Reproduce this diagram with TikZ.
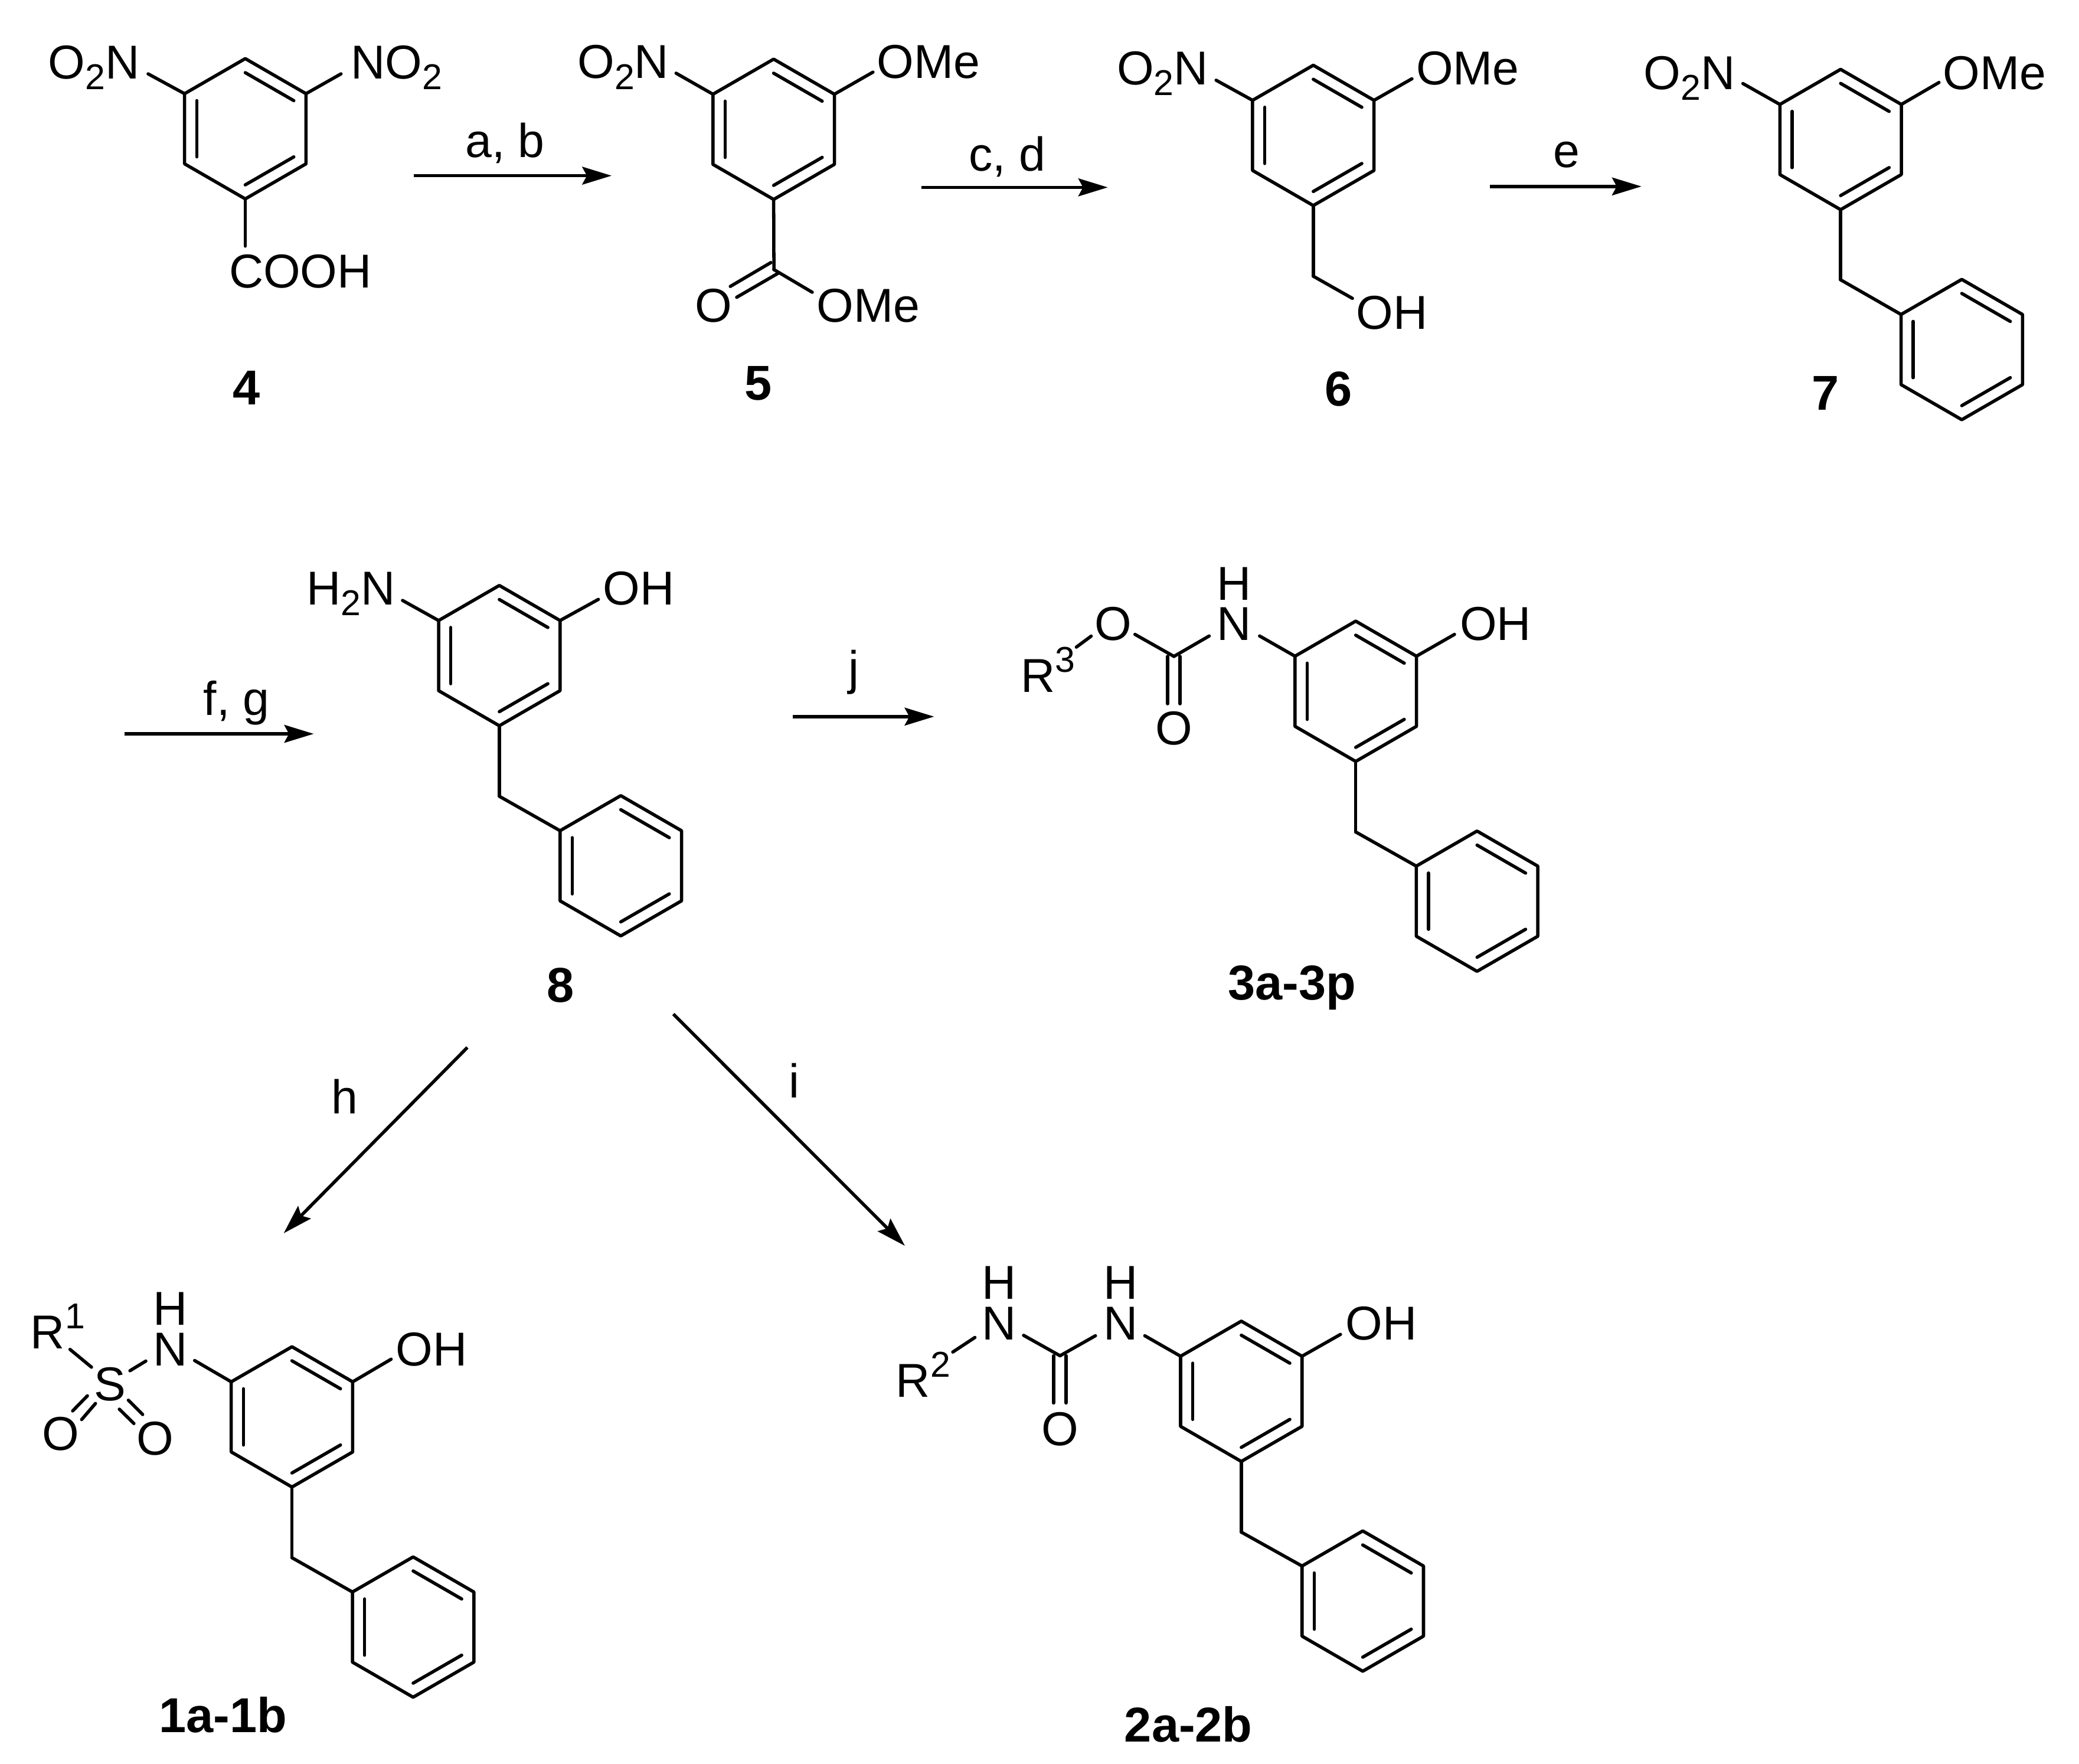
\documentclass[tikz,border=0pt]{standalone}
\usepackage{fontspec}
\setmainfont{Liberation Sans}
\usetikzlibrary{arrows.meta}
\newcommand\sbs[1]{\raisebox{-2.3pt}{\fontsize{7.7}{8}\selectfont #1}}
\newcommand\sps[1]{\raisebox{4.27pt}{\fontsize{7.7}{8}\selectfont #1}}
\tikzset{
  bond/.style={line width=0.7pt,line cap=round,line join=round,black},
  rxn/.style={line width=0.7pt,black,-{Stealth[length=6.3pt,width=3.8pt,inset=1pt]}},
  lbl/.style={font=\fontsize{10.2}{12}\selectfont,inner sep=0pt,outer sep=0pt,black},
  cpd/.style={font=\fontsize{10.5}{12}\selectfont\bfseries,inner sep=0pt,outer sep=0pt,anchor=base,black},
  lw/.style={lbl,anchor=base west},
  lc/.style={lbl,anchor=base}
}
\newcommand\benz[3]{%
  \coordinate (#1t) at (#2,#3-52.9);
  \coordinate (#1ur) at (#2+45.8,#3-26.45);
  \coordinate (#1lr) at (#2+45.8,#3+26.45);
  \coordinate (#1b) at (#2,#3+52.9);
  \coordinate (#1ll) at (#2-45.8,#3+26.45);
  \coordinate (#1ul) at (#2-45.8,#3-26.45);
  \draw[bond] (#1t)--(#1ur)--(#1lr)--(#1b)--(#1ll)--(#1ul)--cycle;
  \draw[bond] (#2,#3-42.3)--(#2+36.6,#3-21.2);
  \draw[bond] (#2+36.6,#3+21.2)--(#2,#3+42.3);
  \draw[bond] (#2-36.6,#3+21.2)--(#2-36.6,#3-21.2);
}
\newcommand\subst[3]{% from, name of free end, position
  \coordinate (#2) at (#3);
  \draw[bond] (#1)--(#2);
}
\newcommand\arrowrxn[3]{% name, start, end
  \coordinate (#1s) at (#2);
  \coordinate (#1e) at (#3);
  \draw[rxn] (#1s)--(#1e);
}
\begin{document}
\begin{tikzpicture}[x=0.01cm,y=-0.01cm]
\useasboundingbox (0,0) rectangle (1568,1330);
% ---------- compound 4
\benz{A}{185}{97.1}
\subst{Aul}{Ae1}{111.7,55.7}
\subst{Aur}{Ae2}{257.2,55.7}
\subst{Ab}{Ae3}{185,185.6}
\node[lw] (A1) at (36.5,59.3) {O\sbs{2}N};
\node[lw] (A2) at (264.7,59.3) {NO\sbs{2}};
\node[lw] (A3) at (172.8,216.9) {COOH};
\node[cpd] (L4) at (185.7,305.4) {4};
% ---------- compound 5
\benz{B}{583.5}{97.5}
\subst{Bul}{Be1}{509.9,55.2}
\subst{Bur}{Be2}{658.4,54.4}
\subst{Bb}{BC}{583.7,203.3}
\subst{BC}{Be3}{612.6,220.4}
\coordinate (Bd1) at (581.4,198); \coordinate (Bd2) at (550.8,216);
\coordinate (Bd3) at (587,206); \coordinate (Bd4) at (555.6,224.2);
\draw[bond] (Bd1)--(Bd2);
\draw[bond] (Bd3)--(Bd4);
\node[lw] (B1) at (435.6,59.2) {O\sbs{2}N};
\node[lw] (B2) at (661.3,59.2) {OMe};
\node[lc] (B3) at (538,243) {O};
\node[lw] (B4) at (615.9,243) {OMe};
\node[cpd] (L5) at (572,301.8) {5};
% ---------- compound 6
\benz{C}{990.5}{102.1}
\subst{Cul}{Ce1}{917.2,60.5}
\subst{Cur}{Ce2}{1064.9,59.4}
\subst{Cb}{CC}{990.5,208.3}
\subst{CC}{Ce3}{1020,225}
\node[lw] (C1) at (842.4,63.7) {O\sbs{2}N};
\node[lw] (C2) at (1068.1,63.7) {OMe};
\node[lw] (C3) at (1023,248) {OH};
\node[cpd] (L6) at (1009.5,306) {6};
% ---------- compound 7
\benz{D}{1388.2}{105.2}
\benz{E}{1479.6}{263.6}
\subst{Dul}{De1}{1314.5,63}
\subst{Dur}{De2}{1462.4,62.2}
\subst{Db}{DC}{1388.2,211}
\draw[bond] (DC)--(Eul);
\node[lw] (D1) at (1239.7,67.3) {O\sbs{2}N};
\node[lw] (D2) at (1465.4,67.3) {OMe};
\node[cpd] (L7) at (1377,309.3) {7};
% ---------- compound 8
\benz{F}{376.6}{494.4}
\benz{G}{468.2}{652.9}
\subst{Ful}{Fe1}{303.6,452.8}
\subst{Fur}{Fe2}{451.3,452}
\subst{Fb}{FC}{376.6,600.5}
\draw[bond] (FC)--(Gul);
\node[lw] (F1) at (231.4,456.1) {H\sbs{2}N};
\node[lw] (F2) at (454.8,456.1) {OH};
\node[cpd] (L8) at (422.6,755.9) {8};
% ---------- compound 3
\benz{H}{1022.5}{521.3}
\benz{I}{1114}{679.6}
\subst{Hur}{He1}{1097,478.4}
\subst{Hul}{He2}{950,479.6}
\subst{Hb}{HC}{1022.5,627.4}
\draw[bond] (HC)--(Iul);
\coordinate (HK) at (885.4,495);
\subst{HK}{He3}{912,479.6}
\subst{HK}{He4}{856,478.4}
\coordinate (He5) at (823,479.7); \coordinate (He6) at (811.8,488);
\draw[bond] (He5)--(He6);
\coordinate (Hd1) at (880.7,495); \coordinate (Hd2) at (880.7,530.7);
\coordinate (Hd3) at (890,495); \coordinate (Hd4) at (890,530.7);
\draw[bond] (Hd1)--(Hd2);
\draw[bond] (Hd3)--(Hd4);
\node[lc] (H1) at (930.7,483) {N};
\node[lc] (H2) at (930.7,452.5) {H};
\node[lc] (H3) at (839.6,483) {O};
\node[lc] (H4) at (885.4,561.5) {O};
\node[lw] (H5) at (770,522) {R\sps{3}};
\node[lw] (H6) at (1101,483) {OH};
\node[cpd] (L3) at (974.5,753.9) {3a-3p};
% ---------- compound 1
\benz{J}{220.2}{1068.5}
\benz{K}{311.6}{1227}
\subst{Jul}{Je1}{146.8,1026}
\subst{Jur}{Je2}{295,1025}
\subst{Jb}{JC}{220.2,1174.7}
\draw[bond] (JC)--(Kul);
\coordinate (Js1) at (52.8,1017.6); \coordinate (Js2) at (69,1031);
\coordinate (Js3) at (98,1033.7); \coordinate (Js4) at (110,1026.4);
\draw[bond] (Js1)--(Js2);
\draw[bond] (Js3)--(Js4);
\coordinate (Jd1) at (65.9,1052.6); \coordinate (Jd2) at (54.8,1064);
\coordinate (Jd3) at (72,1058.4); \coordinate (Jd4) at (61.6,1070.5);
\coordinate (Jd5) at (96.8,1055.9); \coordinate (Jd6) at (107.6,1066.7);
\coordinate (Jd7) at (90,1062.7); \coordinate (Jd8) at (101,1073.5);
\draw[bond] (Jd1)--(Jd2);
\draw[bond] (Jd3)--(Jd4);
\draw[bond] (Jd5)--(Jd6);
\draw[bond] (Jd7)--(Jd8);
\node[lc] (J1) at (128.6,1030) {N};
\node[lc] (J2) at (128.6,999.2) {H};
\node[lc] (J3) at (83,1056.4) {S};
\node[lw] (J4) at (23.1,1016.9) {R\sps{1}};
\node[lc] (J5) at (46,1093.7) {O};
\node[lc] (J6) at (117,1097) {O};
\node[lw] (J7) at (298.5,1030) {OH};
\node[cpd] (L1) at (168.2,1306.6) {1a-1b};
% ---------- compound 2
\benz{M}{936.2}{1049.2}
\benz{P}{1027.8}{1207.4}
\subst{Mul}{Me1}{863.4,1007.3}
\subst{Mur}{Me2}{1011,1006.3}
\subst{Mb}{MC}{936.2,1155.4}
\draw[bond] (MC)--(Pul);
\coordinate (MK) at (799.5,1022.4);
\subst{MK}{Me3}{826.2,1007.3}
\subst{MK}{Me4}{772,1007}
\coordinate (Me5) at (735.3,1008.6); \coordinate (Me6) at (718.6,1019.6);
\draw[bond] (Me5)--(Me6);
\coordinate (Md1) at (794.6,1022.4); \coordinate (Md2) at (794.6,1058);
\coordinate (Md3) at (804,1022.4); \coordinate (Md4) at (804,1058);
\draw[bond] (Md1)--(Md2);
\draw[bond] (Md3)--(Md4);
\node[lc] (M1) at (845.2,1010.6) {N};
\node[lc] (M2) at (845.2,979.8) {H};
\node[lc] (M3) at (753.5,1010.6) {N};
\node[lc] (M4) at (753.5,979.8) {H};
\node[lw] (M5) at (675.8,1053.4) {R\sps{2}};
\node[lc] (M6) at (799.5,1090) {O};
\node[lw] (M7) at (1015,1010.6) {OH};
\node[cpd] (L2) at (896.3,1313.6) {2a-2b};
% ---------- reaction arrows
\arrowrxn{ra}{312,132.5}{461.3,132.5}
\node[lc] (ta) at (380.9,118.7) {a, b};
\arrowrxn{rc}{695,141.3}{835.5,141.3}
\node[lc] (tc) at (759.8,129) {c, d};
\arrowrxn{re}{1123.6,140.6}{1238,140.6}
\node[lc] (te) at (1181.3,126) {e};
\arrowrxn{rf}{93.8,553.4}{236.6,553.4}
\node[lc] (tf) at (178.4,539.2) {f, g};
\arrowrxn{rj}{598,540.4}{704.5,540.4}
\node[lc] (tj) at (644,516) {j};
\arrowrxn{rh}{352.5,789.9}{214,930}
\node[lc] (th) at (260,840) {h};
\arrowrxn{ri}{507.8,764.7}{682.5,939.5}
\node[lc] (ti) at (599,828) {i};
\end{tikzpicture}
\end{document}
